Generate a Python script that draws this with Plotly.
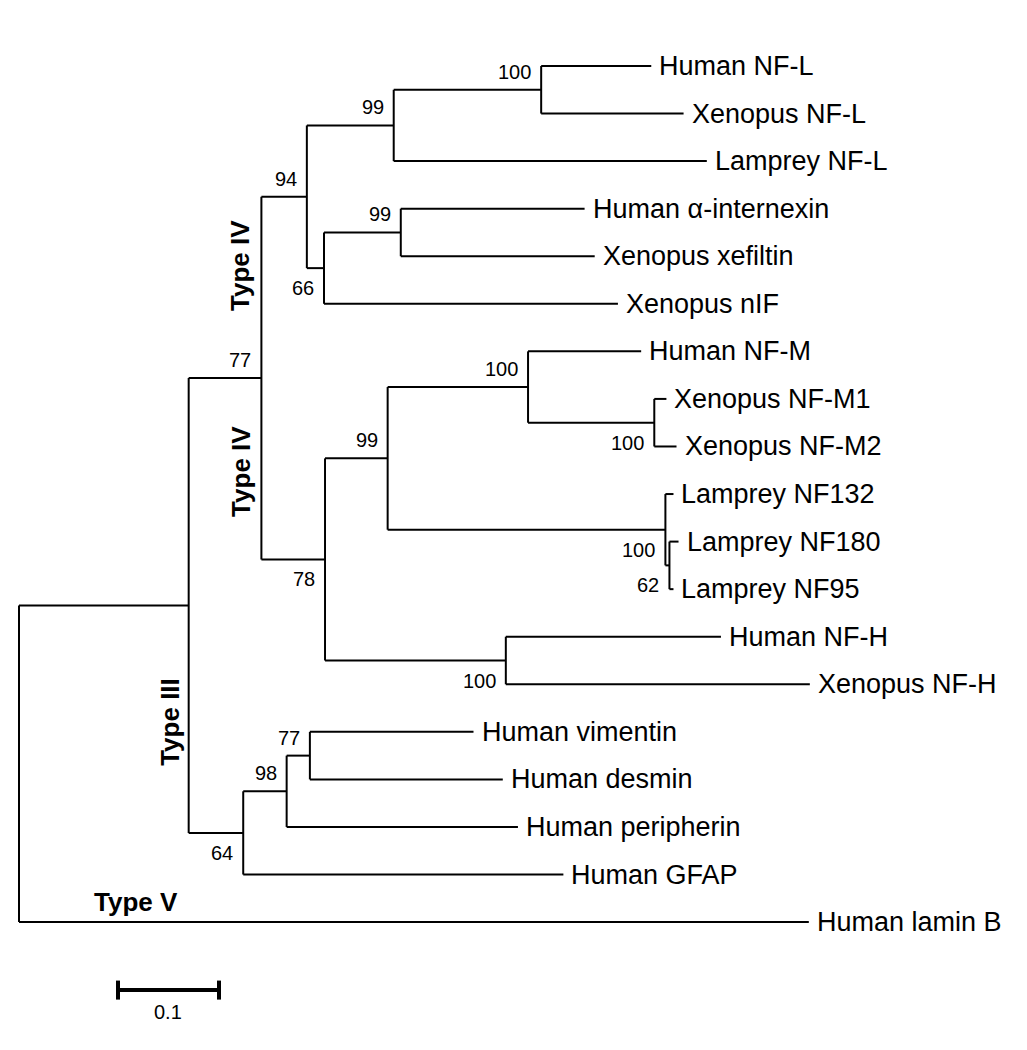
import plotly.graph_objects as go

# tree: nodes listed parent-first; leaves appear in top-to-bottom order
node_names = [
    "root", "A", "IV", "n94", "n99a", "n100a",
    "Human NF-L", "Xenopus NF-L", "Lamprey NF-L",
    "n66", "n99b", "Human α-internexin", "Xenopus xefiltin", "Xenopus nIF",
    "n78", "n99c", "n100b", "Human NF-M", "n100c", "Xenopus NF-M1", "Xenopus NF-M2",
    "n100d", "Lamprey NF132", "n62", "Lamprey NF180", "Lamprey NF95",
    "n100e", "Human NF-H", "Xenopus NF-H",
    "n64", "n98", "n77b", "Human vimentin", "Human desmin", "Human peripherin",
    "Human GFAP", "Human lamin B",
]
node_parents = [
    None, "root", "A", "IV", "n94", "n99a",
    "n100a", "n100a", "n99a",
    "n94", "n66", "n99b", "n99b", "n66",
    "IV", "n78", "n99c", "n100b", "n100b", "n100c", "n100c",
    "n99c", "n100d", "n100d", "n62", "n62",
    "n78", "n100e", "n100e",
    "A", "n64", "n98", "n77b", "n77b", "n98",
    "n64", "root",
]
branch_lengths = [
    0.0, 0.168, 0.072, 0.045, 0.086, 0.146,
    0.109, 0.141, 0.310,
    0.017, 0.076, 0.182, 0.192, 0.291,
    0.063, 0.062, 0.139, 0.112, 0.125, 0.012, 0.022,
    0.275, 0.008, 0.004, 0.009, 0.004,
    0.179, 0.213, 0.301,
    0.054, 0.043, 0.023, 0.162, 0.191, 0.229,
    0.317, 0.782,
]
bootstrap = {
    "IV": 77, "n94": 94, "n99a": 99, "n100a": 100, "n66": 66, "n99b": 99,
    "n78": 78, "n99c": 99, "n100b": 100, "n100c": 100, "n100d": 100, "n62": 62,
    "n100e": 100, "n64": 64, "n98": 98, "n77b": 77,
}
labels_below = ["n66", "n78", "n100c", "n100d", "n62", "n100e", "n64"]

type_labels = ["Type IV", "Type IV", "Type III", "Type V"]
scale_value = 0.1

# ---- layout of tree
children = {n: [] for n in node_names}
for n, p in zip(node_names, node_parents):
    if p is not None:
        children[p].append(n)

xpos = {}
for n, p, bl in zip(node_names, node_parents, branch_lengths):
    xpos[n] = bl if p is None else xpos[p] + bl

ypos = {}
leaf_count = [0]


def place(n):
    if not children[n]:
        ypos[n] = leaf_count[0]
        leaf_count[0] += 1
        return
    for c in children[n]:
        place(c)
    ys = [ypos[c] for c in children[n]]
    ypos[n] = (min(ys) + max(ys)) / 2


place("root")

xs, ys = [], []
for n, p in zip(node_names, node_parents):
    if p is not None:
        xs += [xpos[p], xpos[n], None]
        ys += [ypos[n], ypos[n], None]
    if children[n]:
        cy = [ypos[c] for c in children[n]]
        xs += [xpos[n], xpos[n], None]
        ys += [min(cy), max(cy), None]

fig = go.Figure()
fig.add_trace(go.Scatter(x=xs, y=ys, mode="lines",
                         line=dict(color="black", width=2),
                         hoverinfo="skip", showlegend=False))

# scale bar
sb_x0 = 0.098
sb_y = 19.43
fig.add_trace(go.Scatter(
    x=[sb_x0, sb_x0 + scale_value, None, sb_x0, sb_x0, None,
       sb_x0 + scale_value, sb_x0 + scale_value],
    y=[sb_y, sb_y, None, sb_y - 0.2, sb_y + 0.2, None, sb_y - 0.2, sb_y + 0.2],
    mode="lines", line=dict(color="black", width=4),
    hoverinfo="skip", showlegend=False))

annotations = []
leaf_font = dict(family="Liberation Sans, Arial", size=27, color="black")
for n in node_names:
    if not children[n]:
        annotations.append(dict(x=xpos[n], y=ypos[n], text=n, showarrow=False,
                                xanchor="left", yanchor="middle", xshift=6,
                                font=leaf_font))
    elif n in bootstrap:
        below = n in labels_below
        annotations.append(dict(x=xpos[n], y=ypos[n], text=str(bootstrap[n]),
                                showarrow=False, xanchor="right", yanchor="middle",
                                xshift=-8, yshift=-20 if below else 18,
                                font=dict(family="Liberation Sans, Arial", size=20,
                                          color="black")))

bold_font = dict(family="Liberation Sans, Arial", size=26, color="black")
type_pos = [(0.219, 4.2, -90), (0.219, 8.53, -90), (0.15, 13.8, -90), (0.116, 17.58, 0)]
for t, (tx, ty, ang) in zip(type_labels, type_pos):
    annotations.append(dict(x=tx, y=ty, text="<b>%s</b>" % t, showarrow=False,
                            xanchor="center", yanchor="middle", textangle=ang,
                            font=bold_font))

annotations.append(dict(x=sb_x0 + scale_value / 2, y=19.9, text=str(scale_value),
                        showarrow=False, xanchor="center", yanchor="middle",
                        font=dict(family="Liberation Sans, Arial", size=20,
                                  color="black")))

# page body has an 8px margin, so the ranges are offset to compensate
fig.update_layout(
    width=1027, height=1050,
    margin=dict(l=0, r=0, t=0, b=0),
    plot_bgcolor="white", paper_bgcolor="white",
    annotations=annotations,
    xaxis=dict(range=[-11 / 1010, 1016 / 1010], visible=False, fixedrange=True),
    yaxis=dict(range=[(1050 - 58) / 47.56, -58 / 47.56], visible=False, fixedrange=True),
)

fig.write_html("out.html")
